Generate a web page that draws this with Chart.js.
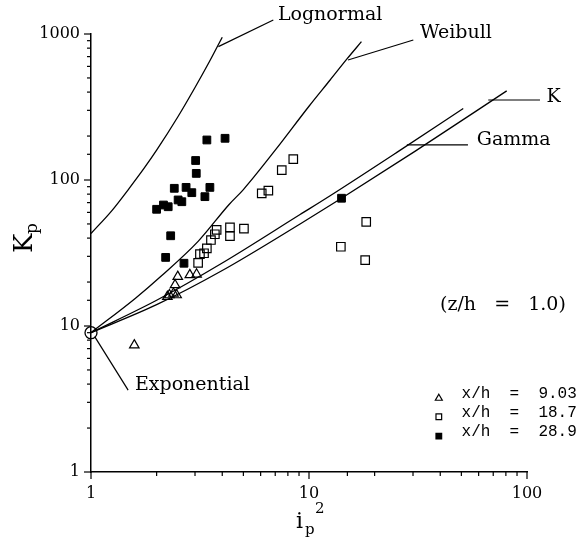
<!DOCTYPE html>
<html>
<head>
<meta charset="utf-8">
<script src="https://cdn.jsdelivr.net/npm/chart.js@4/dist/chart.umd.min.js"></script>
<style>
  html, body { margin: 0; padding: 0; background: #fff; }
  canvas { display: block; }
</style>
</head>
<body>
<canvas id="kurtosis-chart" width="583" height="537"></canvas>
<script>
// measured points, z/h = 1.0
const tri903X = [1.58, 2.24, 2.29, 2.39, 2.47, 2.43, 2.50, 2.84, 3.05];
const tri903Y = [7.4, 15.9, 16.3, 16.7, 16.3, 19.1, 21.8, 22.4, 22.6];

const sq187X = [3.10, 3.16, 3.30, 3.40, 3.55, 3.70, 3.77, 4.34, 4.34, 5.03, 6.07, 6.51, 7.50, 8.47, 14.0, 18.1, 18.3];
const sq187Y = [27.1, 31.1, 31.5, 34.0, 38.8, 42.5, 45.5, 41.3, 47.4, 46.4, 81, 84.5, 117, 139, 34.9, 28.3, 51.6];

const sq289X = [2.00, 2.15, 2.26, 2.20, 2.32, 2.41, 2.51, 2.61, 2.67, 2.73, 2.90, 3.02, 3.04, 3.33, 3.40, 3.51, 4.12, 14.1];
const sq289Y = [63, 67.4, 65.6, 29.5, 41.5, 87.7, 73, 71, 26.9, 89, 81.9, 136, 111, 76.9, 188, 89, 193, 75];

// model curves
const lognormX = [1, 1.25, 1.5, 1.75, 2, 2.5, 3, 3.5, 4];
const lognormY = [43, 62, 88, 120, 160, 270, 430, 650, 950];

const weibullX = [1, 1.6, 2.1, 3.1, 4.3, 5, 7, 10, 12.5, 15, 17.4];
const weibullY = [9, 15.5, 22, 38, 68, 86, 160, 320, 484, 680, 886];

const gammaX = [1, 2, 4, 9.1, 12.5, 25.2, 51];
const gammaY = [9, 15, 27, 58, 78, 154, 309];

const kX = [1, 2, 4, 9.1, 14.1, 30.6, 80.7];
const kY = [9, 14, 24, 50, 75, 157, 408];

const expX = [1];
const expY = [9];

const xTickLabels = ['1', '10', '100'];
const yTickLabels = ['1', '10', '100', '1000'];

const legendRows = [
  { style: 'triangle', fill: false, text: 'x/h  =  9.03' },
  { style: 'rect', fill: false, text: 'x/h  =  18.7' },
  { style: 'rect', fill: true, text: 'x/h  =  28.9' }
];

const pairs = (xs, ys) => xs.map((v, i) => ({ x: v, y: ys[i] }));

// leader lines and curve names, in data units
const notes = [
  { text: 'Lognormal', from: [3.84, 819], to: [6.86, 1247], at: [7.2, 1350] },
  { text: 'Weibull', from: [15.1, 664], to: [30.1, 910], at: [32.3, 1016] },
  { text: 'K', from: [66.4, 353], to: [114.7, 353], at: [123, 372] },
  { text: 'Gamma', from: [28.1, 174], to: [53.6, 174], at: [58.8, 188] },
  { text: 'Exponential', from: [1.04, 8.45], to: [1.48, 3.64], at: [1.59, 3.94] }
];

const serif = '"DejaVu Serif", serif';

const curve = (label, xs, ys) => ({
  label, data: pairs(xs, ys), showLine: true, pointRadius: 0,
  borderColor: '#000', borderWidth: 1.3, cubicInterpolationMode: 'monotone', fill: false
});

const extras = {
  id: 'extras',
  afterDraw(chart) {
    const { ctx, scales: { x, y } } = chart;
    ctx.save();
    ctx.strokeStyle = '#000';
    ctx.fillStyle = '#000';

    // tick marks, longer at each decade
    ctx.lineWidth = 1.2;
    const isMajor = v => Math.abs(Math.log10(v) - Math.round(Math.log10(v))) < 1e-6;
    x.ticks.forEach(t => {
      const px = x.getPixelForValue(t.value);
      ctx.beginPath();
      ctx.moveTo(px, y.bottom);
      ctx.lineTo(px, y.bottom + (isMajor(t.value) ? 7 : 4));
      ctx.stroke();
    });
    y.ticks.forEach(t => {
      const py = y.getPixelForValue(t.value);
      ctx.beginPath();
      ctx.moveTo(x.left, py);
      ctx.lineTo(x.left - (isMajor(t.value) ? 7 : 4), py);
      ctx.stroke();
    });

    // curve names with leaders
    ctx.lineWidth = 1.2;
    ctx.font = '19px ' + serif;
    ctx.textAlign = 'left';
    ctx.textBaseline = 'middle';
    notes.forEach(n => {
      ctx.beginPath();
      ctx.moveTo(x.getPixelForValue(n.from[0]), y.getPixelForValue(n.from[1]));
      ctx.lineTo(x.getPixelForValue(n.to[0]), y.getPixelForValue(n.to[1]));
      ctx.stroke();
      ctx.fillText(n.text, x.getPixelForValue(n.at[0]), y.getPixelForValue(n.at[1]));
    });

    ctx.fillText('(z/h   =   1.0)', x.getPixelForValue(39.9), y.getPixelForValue(13.9));

    // legend
    ctx.font = '16px "Liberation Mono", monospace';
    const lx = x.getPixelForValue(39.4);
    const tx = x.getPixelForValue(50.1);
    const rowY = [3.2, 2.39, 1.76];
    legendRows.forEach((r, i) => {
      const py = y.getPixelForValue(rowY[i]);
      ctx.fillStyle = r.fill ? '#000' : '#fff';
      Chart.helpers.drawPoint(ctx, { pointStyle: r.style, radius: 4, borderWidth: 1 }, lx, py);
      ctx.fillStyle = '#000';
      ctx.fillText(r.text, tx, py - 4);
    });

    // axis titles
    ctx.textBaseline = 'alphabetic';
    ctx.font = '22px ' + serif;
    ctx.fillText('i', 296, 528);
    ctx.font = '15px ' + serif;
    ctx.fillText('p', 305, 534);
    ctx.fillText('2', 315, 513);

    ctx.translate(32, 253);
    ctx.rotate(-Math.PI / 2);
    ctx.font = '26px ' + serif;
    ctx.fillText('K', 0, 0);
    ctx.font = '17px ' + serif;
    ctx.fillText('p', 19, 5);
    ctx.restore();
  }
};

new Chart(document.getElementById('kurtosis-chart'), {
  type: 'scatter',
  data: {
    datasets: [
      {
        label: 'x/h = 28.9', data: pairs(sq289X, sq289Y), pointStyle: 'rect',
        pointRadius: 5.5, backgroundColor: '#000', borderColor: '#000', borderWidth: 1, clip: false
      },
      {
        label: 'x/h = 18.7', data: pairs(sq187X, sq187Y), pointStyle: 'rect',
        pointRadius: 6, backgroundColor: 'rgba(0,0,0,0)', borderColor: '#000', borderWidth: 1.2, clip: false
      },
      {
        label: 'x/h = 9.03', data: pairs(tri903X, tri903Y), pointStyle: 'triangle',
        pointRadius: 5.5, backgroundColor: 'rgba(0,0,0,0)', borderColor: '#000', borderWidth: 1.2, clip: false
      },
      {
        label: 'Exponential', data: pairs(expX, expY), pointStyle: 'circle',
        pointRadius: 6, backgroundColor: 'rgba(0,0,0,0)', borderColor: '#000', borderWidth: 1.3, clip: false
      },
      curve('Lognormal', lognormX, lognormY),
      curve('Weibull', weibullX, weibullY),
      curve('Gamma', gammaX, gammaY),
      curve('K', kX, kY)
    ]
  },
  options: {
    responsive: false,
    animation: false,
    devicePixelRatio: 1,
    layout: { padding: { top: 34, right: 56, left: 0, bottom: 0 } },
    plugins: { legend: { display: false }, tooltip: { enabled: false } },
    scales: {
      x: {
        type: 'logarithmic', min: 1, max: 100,
        afterFit: s => { s.height = 65; },
        grid: { display: false, drawTicks: false },
        border: { display: true, color: '#000', width: 1.5 },
        ticks: {
          autoSkip: false, maxRotation: 0, padding: 12, color: '#000',
          font: { family: serif, size: 16 },
          callback: v => xTickLabels.find(l => Number(l) === v) || ''
        }
      },
      y: {
        type: 'logarithmic', min: 1, max: 1000,
        afterFit: s => { s.width = 91; },
        grid: { display: false, drawTicks: false },
        border: { display: true, color: '#000', width: 1.5 },
        ticks: {
          autoSkip: false, padding: 11, color: '#000',
          font: { family: serif, size: 16 },
          callback: v => yTickLabels.find(l => Number(l) === v) || ''
        }
      }
    }
  },
  plugins: [extras]
});
</script>
</body>
</html>
